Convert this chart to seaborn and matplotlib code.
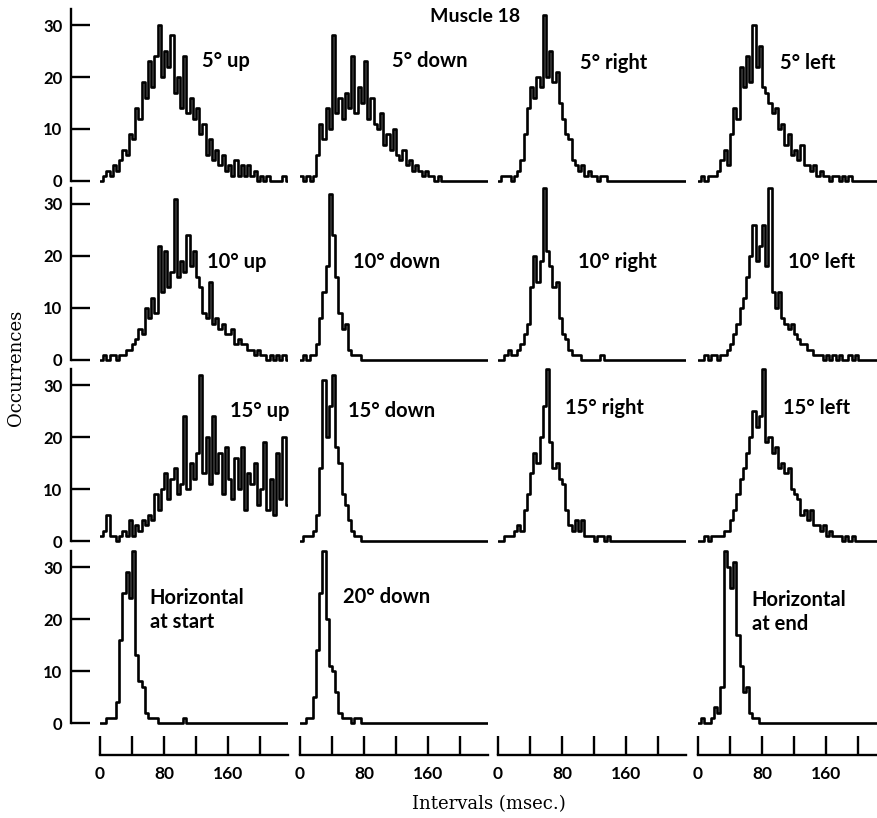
import numpy as np
import pandas as pd
import seaborn as sns
import matplotlib.pyplot as plt

# interval histograms, 4 msec bins starting at 0 msec
bin_width = 4
x_end = 236
n_bins = x_end // bin_width

up_5 = [0, 1, 2, 1, 3, 2, 4, 6, 5, 9, 8, 14, 12, 19, 16, 23, 18, 24, 30, 20,
        25, 22, 28, 17, 20, 14, 24, 13, 16, 12, 14, 9, 11, 5, 8, 4, 6, 3, 5, 2,
        3, 1, 4, 1, 3, 1, 3, 1, 2, 0, 1, 0, 1, 0, 0, 0, 0, 1, 0]
down_5 = [1, 0, 1, 0, 1, 5, 11, 8, 14, 10, 28, 13, 16, 12, 17, 14, 24, 13, 18, 15,
          23, 12, 16, 11, 10, 13, 7, 9, 6, 10, 5, 4, 6, 3, 4, 2, 3, 2, 1, 2,
          1, 1, 0, 1]
right_5 = [0, 1, 1, 1, 0, 1, 2, 4, 9, 14, 18, 16, 20, 18, 32, 20, 25, 19, 21, 15,
           12, 9, 8, 4, 3, 2, 3, 1, 2, 1, 1, 0, 1, 1]
left_5 = [0, 1, 0, 1, 1, 1, 2, 4, 6, 3, 9, 14, 12, 22, 18, 24, 19, 30, 22, 26,
          18, 17, 15, 13, 14, 10, 11, 7, 9, 5, 6, 4, 7, 3, 3, 2, 3, 1, 2, 1,
          1, 0, 1, 1, 0, 1, 0, 1]

up_10 = [0, 1, 0, 1, 1, 0, 1, 1, 2, 2, 3, 4, 6, 5, 10, 8, 12, 9, 22, 13,
         21, 14, 17, 31, 16, 19, 17, 24, 18, 21, 16, 14, 9, 8, 15, 7, 8, 6, 7, 5,
         5, 6, 3, 4, 3, 3, 2, 2, 1, 2, 1, 1, 0, 1, 0, 1, 0, 1, 0]
down_10 = [0, 1, 0, 1, 1, 3, 8, 13, 18, 32, 24, 16, 9, 6, 7, 2, 1, 1, 1]
right_10 = [0, 0, 1, 2, 1, 1, 2, 3, 5, 7, 14, 20, 15, 19, 33, 21, 18, 14, 15, 8,
            5, 4, 2, 1, 1, 1, 0, 0, 0, 0, 0, 0, 1]
left_10 = [0, 0, 1, 0, 1, 1, 0, 1, 1, 2, 3, 5, 7, 10, 12, 16, 20, 26, 19, 22,
           26, 18, 33, 13, 10, 13, 8, 7, 6, 7, 5, 4, 3, 3, 2, 2, 1, 1, 1, 0,
           1, 0, 1, 0, 1, 0, 0, 1, 0, 1]

up_15 = [1, 2, 5, 1, 1, 0, 1, 2, 1, 4, 1, 3, 2, 4, 3, 5, 4, 9, 6, 10,
         13, 8, 12, 14, 9, 11, 24, 10, 15, 12, 17, 32, 13, 20, 11, 24, 13, 17, 9, 18,
         12, 8, 16, 10, 18, 6, 13, 11, 15, 7, 10, 19, 6, 12, 5, 17, 8, 20, 7]
down_15 = [0, 1, 1, 1, 2, 5, 14, 31, 20, 26, 32, 18, 15, 9, 7, 4, 2, 1, 1]
right_15 = [0, 0, 1, 1, 1, 2, 3, 2, 6, 9, 13, 17, 15, 20, 26, 33, 19, 14, 15, 12,
            11, 6, 3, 2, 4, 2, 4, 1, 1, 1, 0, 1, 1, 0, 1]
left_15 = [0, 0, 1, 0, 1, 1, 1, 1, 2, 2, 4, 6, 9, 12, 14, 17, 20, 25, 22, 24,
           33, 19, 20, 17, 18, 14, 15, 13, 14, 10, 9, 8, 5, 6, 4, 6, 3, 3, 2, 3,
           1, 2, 1, 1, 1, 0, 1, 0, 1]

horiz_start = [0, 0, 1, 1, 1, 4, 16, 25, 29, 24, 33, 13, 8, 7, 2, 1, 1, 1, 0, 0,
               0, 0, 0, 0, 0, 0, 1]
down_20 = [0, 0, 1, 1, 5, 14, 25, 33, 20, 11, 10, 6, 2, 1, 1, 1, 0, 1, 1]
horiz_end = [0, 1, 0, 0, 1, 3, 2, 7, 33, 30, 26, 31, 17, 11, 6, 7, 2, 1, 1]

# (row, col, label, counts)
panels = [
    (0, 0, '5° up', up_5), (0, 1, '5° down', down_5),
    (0, 2, '5° right', right_5), (0, 3, '5° left', left_5),
    (1, 0, '10° up', up_10), (1, 1, '10° down', down_10),
    (1, 2, '10° right', right_10), (1, 3, '10° left', left_10),
    (2, 0, '15° up', up_15), (2, 1, '15° down', down_15),
    (2, 2, '15° right', right_15), (2, 3, '15° left', left_15),
    (3, 0, 'Horizontal\nat start', horiz_start), (3, 1, '20° down', down_20),
    (3, 3, 'Horizontal\nat end', horiz_end),
]
# where each label sits, in (msec, occurrences)
label_pos = [
    (128, 23), (115, 23), (103, 22.7), (103, 22.7),
    (134, 18.8), (66, 18.8), (100, 18.8), (112, 18.8),
    (162, 25), (60, 25), (84, 25.6), (106, 25.6),
    (62, 21.8), (54, 24.2), (67, 21.4),
]
y_ticks = [0, 10, 20, 30]
x_ticks = [0, 40, 80, 120, 160, 200]
x_tick_text = ['0', '', '80', '', '160', '']

sns.set_style('white')
plt.rcParams['font.family'] = ['Lato', 'DejaVu Sans']
plt.rcParams['text.color'] = 'black'
plt.rcParams['xtick.color'] = 'black'
plt.rcParams['ytick.color'] = 'black'

W, H = 877, 818
fig = plt.figure(figsize=(W / 100, H / 100), dpi=100)

col_left = [100, 300, 498, 698]
row_base = [181, 360, 541, 723]
px_ms, px_n = 0.8, 5.2
x_max = 235
y_lo, y_hi = -0.4, 34


def panel_box(left, base):
    bottom = base - y_lo * px_n
    return [left / W, 1 - bottom / H, x_max * px_ms / W, (y_hi - y_lo) * px_n / H]


for (row, col, label, counts), (lx, ly) in zip(panels, label_pos):
    ax = fig.add_axes(panel_box(col_left[col], row_base[row]))
    n = list(counts) + [0] * (n_bins - len(counts))  # empty tail
    df = pd.DataFrame({'ms': [bin_width * i + bin_width / 2 for i in range(n_bins)],
                       'n': n})
    sns.histplot(data=df, x='ms', weights='n', binwidth=bin_width,
                 binrange=(0, x_end), element='step', fill=False,
                 color='black', linewidth=1.9, ax=ax)
    ax.set_xlim(0, x_max)
    ax.set_ylim(y_lo, y_hi)
    ax.set(xlabel='', ylabel='', xticks=[])
    for s in ax.spines.values():
        s.set_visible(False)
    if col == 0:
        sp = ax.spines['left']
        sp.set_visible(True)
        sp.set_position(('outward', 21))
        sp.set_bounds(0, 33)
        sp.set_linewidth(1.7)
        sp.set_color('black')
        ax.set_yticks(y_ticks)
        ax.tick_params(axis='y', direction='in', length=14, width=1.7,
                       pad=6, labelsize=12, left=True, colors='black')
        for t in ax.get_yticklabels():
            t.set_fontweight('bold')
    else:
        ax.set_yticks([])
    ax.text(lx, ly, label, fontsize=14.5, fontweight='bold', va='center',
            ha='left', linespacing=1.25)

# time rulers under each column
for left in col_left:
    rax = fig.add_axes([left / W, 1 - 755 / H, x_max * px_ms / W, 20 / H])
    rax.set_xlim(0, x_max)
    rax.set_ylim(0, 1)
    for name, s in rax.spines.items():
        s.set_visible(name == 'bottom')
    rax.spines['bottom'].set_linewidth(1.7)
    rax.spines['bottom'].set_color('black')
    rax.set_yticks([])
    rax.set_xticks(x_ticks)
    rax.set_xticklabels(x_tick_text)
    rax.tick_params(axis='x', direction='in', length=14, width=1.7, pad=8,
                    labelsize=12.5, bottom=True, colors='black')
    for t in rax.get_xticklabels():
        t.set_fontweight('bold')

fig.text(475 / W, 1 - 17 / H, 'Muscle 18', ha='center', va='center',
         fontsize=14, fontweight='bold')
fig.text(489 / W, 1 - 804 / H, 'Intervals (msec.)', ha='center', va='center',
         family='DejaVu Serif', fontsize=13)
fig.text(16 / W, 1 - 368 / H, 'Occurrences', ha='center', va='center',
         rotation=90, family='DejaVu Serif', fontsize=13)

fig.savefig('out.png', dpi=100)
